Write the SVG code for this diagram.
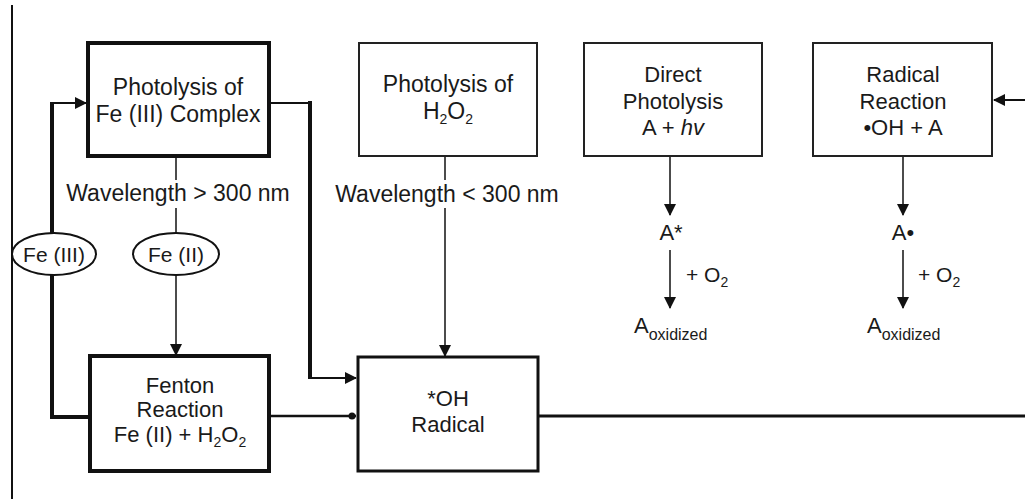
<svg xmlns="http://www.w3.org/2000/svg" width="1025" height="499" viewBox="0 0 1025 499">
<style>
text{font-family:"Liberation Sans",Arial,sans-serif;font-size:22px;fill:#1a1a1a;text-anchor:middle}
.big{font-size:23px}
.sub{font-size:14px}
.sub2{font-size:16px}
.lbl{font-size:21px}
.start{text-anchor:start}
.box{fill:#fff;stroke:#111}
.thick{stroke-width:4}
.mid{stroke-width:3}
.thin{stroke-width:2;stroke:#222}
.ln{fill:none;stroke:#111}
</style>
<defs>
<marker id="ah" markerUnits="userSpaceOnUse" markerWidth="12" markerHeight="12" refX="11" refY="6" orient="auto">
<path d="M0,0 L12,6 L0,12 z" fill="#111"/>
</marker>
</defs>
<rect width="1025" height="499" fill="#fff"/>
<line x1="12" y1="5" x2="12" y2="499" stroke="#111" stroke-width="2"/>

<g id="connectors">
<path class="ln" d="M176,156 V180" stroke-width="1.5"/>
<path class="ln" d="M176,208 V233" stroke-width="1.5"/>
<path class="ln" d="M176,275 V355" stroke-width="1.5" marker-end="url(#ah)"/>
<path class="ln" d="M90,417 H52 V275" stroke-width="4"/>
<path class="ln" d="M52,233 V103" stroke-width="4"/>
<path class="ln" d="M50,103 H86" stroke-width="2" marker-end="url(#ah)"/>
<path class="ln" d="M269,103 H310" stroke-width="2"/>
<path class="ln" d="M310,101 V378" stroke-width="4"/>
<path class="ln" d="M308,378 H356" stroke-width="2" marker-end="url(#ah)"/>
<path class="ln" d="M445,156 V180" stroke-width="1.5"/>
<path class="ln" d="M445,208 V356" stroke-width="1.5" marker-end="url(#ah)"/>
<path class="ln" d="M269,416 H356" stroke-width="2.5"/>
<circle cx="352" cy="416" r="3.5" fill="#111"/>
<path class="ln" d="M538,416 H1025" stroke-width="3"/>
<path class="ln" d="M670,156 V215" stroke-width="1.5" marker-end="url(#ah)"/>
<path class="ln" d="M670,250 V308" stroke-width="1.5" marker-end="url(#ah)"/>
<path class="ln" d="M903,156 V215" stroke-width="1.5" marker-end="url(#ah)"/>
<path class="ln" d="M903,250 V308" stroke-width="1.5" marker-end="url(#ah)"/>
<path class="ln" d="M1025,100 H994" stroke-width="2" marker-end="url(#ah)"/>
</g>

<g id="photolysis-fe3">
<rect class="box thick" x="88" y="43" width="181" height="113"/>
<text class="big" x="178" y="95">Photolysis of</text>
<text class="big" x="178" y="122">Fe (III) Complex</text>
</g>
<g id="photolysis-h2o2">
<rect class="box thin" x="359" y="43" width="178" height="113"/>
<text class="big" x="448" y="92">Photolysis of</text>
<text class="big" x="448" y="119">H<tspan class="sub" dy="5">2</tspan><tspan dy="-5">O</tspan><tspan class="sub" dy="5">2</tspan></text>
</g>
<g id="direct-photolysis">
<rect class="box thin" x="584" y="43" width="178" height="113"/>
<text x="673" y="82">Direct</text>
<text x="673" y="109">Photolysis</text>
<text x="673" y="135">A + <tspan font-style="italic">hv</tspan></text>
</g>
<g id="radical-reaction">
<rect class="box thin" x="813" y="43" width="179" height="113"/>
<text x="903" y="82">Radical</text>
<text x="903" y="109">Reaction</text>
<text x="903" y="135">•OH + A</text>
</g>
<g id="wl-gt">
<text class="big" x="178" y="201">Wavelength &gt; 300 nm</text>
</g>
<g id="wl-lt">
<text class="big" x="447" y="202">Wavelength &lt; 300 nm</text>
</g>
<g id="fe3">
<ellipse cx="54" cy="254" rx="42" ry="21" fill="#fff" stroke="#111" stroke-width="2"/>
<text class="lbl" x="54" y="262">Fe (III)</text>
</g>
<g id="fe2">
<ellipse cx="176" cy="254" rx="43" ry="21" fill="#fff" stroke="#111" stroke-width="2"/>
<text class="lbl" x="176" y="262">Fe (II)</text>
</g>
<g id="fenton">
<rect class="box thick" x="90" y="356" width="179" height="115"/>
<text x="180" y="393">Fenton</text>
<text x="180" y="417">Reaction</text>
<text x="180" y="442">Fe (II) + H<tspan class="sub" dy="5">2</tspan><tspan dy="-5">O</tspan><tspan class="sub" dy="5">2</tspan></text>
</g>
<g id="oh-radical">
<rect class="box mid" x="358" y="357" width="180" height="114"/>
<text x="448" y="406">*OH</text>
<text x="448" y="432">Radical</text>
</g>
<g id="a-star">
<text x="671" y="240">A*</text>
<text class="lbl start" x="686" y="282">+ O<tspan class="sub" dy="5">2</tspan></text>
<text class="start" x="634" y="333">A<tspan class="sub2" dy="7">oxidized</tspan></text>
</g>
<g id="a-rad">
<text x="903" y="240">A•</text>
<text class="lbl start" x="918" y="282">+ O<tspan class="sub" dy="5">2</tspan></text>
<text class="start" x="867" y="333">A<tspan class="sub2" dy="7">oxidized</tspan></text>
</g>
</svg>
